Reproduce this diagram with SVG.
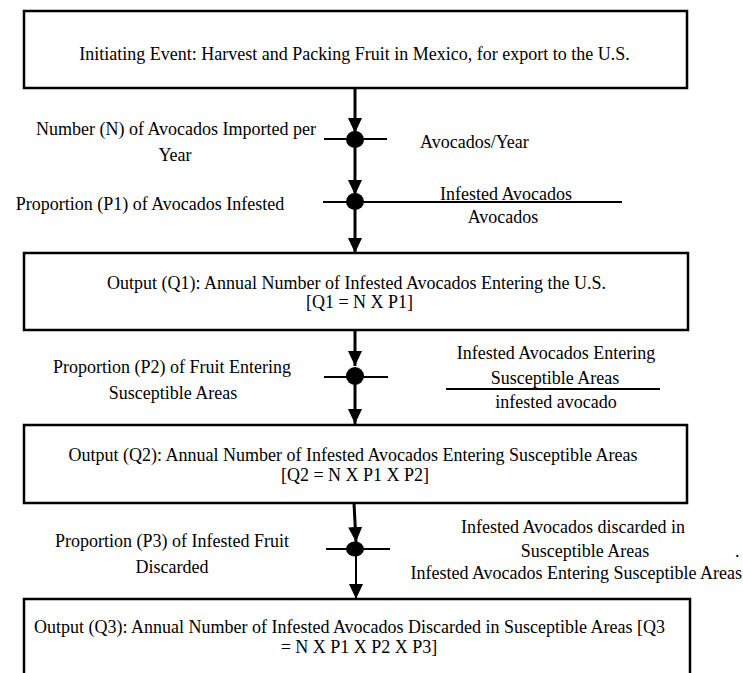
<svg xmlns="http://www.w3.org/2000/svg" width="743" height="673" viewBox="0 0 743 673">
<style>
.box{fill:#fff;stroke:#000;stroke-width:2.5}
.t{font-family:"Liberation Serif","Times New Roman",serif;font-size:18px;fill:#000}
.c{text-anchor:middle}
.e{text-anchor:end}
.ln{stroke:#000;stroke-width:3;fill:none}
.thin{stroke:#000;stroke-width:2;fill:none}
.h{stroke:#000;stroke-width:2}
.dot{fill:#000}
</style>
<defs>
<marker id="arr" markerUnits="userSpaceOnUse" markerWidth="15" markerHeight="15" refX="15" refY="7" orient="auto">
<path d="M0,0 L15,7 L0,14 z" fill="#000"/>
</marker>
</defs>
<rect width="743" height="673" fill="#fff"/>
<g id="connectors">
<path class="ln" d="M355,88 V133" marker-end="url(#arr)"/>
<path class="ln" d="M355,140 V195" marker-end="url(#arr)"/>
<path class="ln" d="M355,202 V253" marker-end="url(#arr)"/>
<path class="ln" d="M355,330 V366" marker-end="url(#arr)"/>
<path class="ln" d="M355,377 V424" marker-end="url(#arr)"/>
<path class="ln" d="M354,503 L356,542" marker-end="url(#arr)"/>
<path class="thin" d="M356,549 V599" marker-end="url(#arr)"/>
<line class="h" x1="324" y1="139" x2="387" y2="139"/>
<line class="h" x1="323" y1="202" x2="622" y2="202"/>
<line class="h" x1="324" y1="377" x2="388" y2="377"/>
<line class="h" x1="326" y1="549" x2="390" y2="549"/>
<ellipse class="dot" cx="355" cy="139.5" rx="9" ry="8.5"/>
<ellipse class="dot" cx="355" cy="201.5" rx="9" ry="8.5"/>
<ellipse class="dot" cx="355" cy="376" rx="9" ry="9"/>
<ellipse class="dot" cx="355" cy="549" rx="9" ry="7.5"/>
</g>
<g id="initiating">
<rect class="box" x="24" y="11" width="663" height="77"/>
<text class="t c" x="354.5" y="60">Initiating Event: Harvest and Packing Fruit in Mexico, for export to the U.S.</text>
</g>
<g id="n-label">
<text class="t c" x="176" y="135">Number (N) of Avocados Imported per</text>
<text class="t c" x="175" y="161">Year</text>
</g>
<g id="n-unit">
<text class="t" x="420" y="148">Avocados/Year</text>
</g>
<g id="p1-label">
<text class="t c" x="150" y="210">Proportion (P1) of Avocados Infested</text>
</g>
<g id="p1-unit">
<text class="t c" x="506" y="200">Infested Avocados</text>
<text class="t c" x="503" y="223">Avocados</text>
</g>
<g id="q1">
<rect class="box" x="24" y="253" width="664" height="77"/>
<text class="t c" x="356.5" y="289">Output (Q1): Annual Number of Infested Avocados Entering the U.S.</text>
<text class="t c" x="359.5" y="308">[Q1 = N X P1]</text>
</g>
<g id="p2-label">
<text class="t c" x="172" y="373">Proportion (P2) of Fruit Entering</text>
<text class="t c" x="173" y="399">Susceptible Areas</text>
</g>
<g id="p2-unit">
<text class="t c" x="556" y="359">Infested Avocados Entering</text>
<text class="t c" x="555" y="384">Susceptible Areas</text>
<line class="h" x1="446" y1="389" x2="660" y2="389"/>
<text class="t c" x="556" y="408">infested avocado</text>
</g>
<g id="q2">
<rect class="box" x="24" y="425" width="663" height="78"/>
<text class="t c" x="353" y="461">Output (Q2): Annual Number of Infested Avocados Entering Susceptible Areas</text>
<text class="t c" x="355" y="481">[Q2 = N X P1 X P2]</text>
</g>
<g id="p3-label">
<text class="t c" x="172" y="547">Proportion (P3) of Infested Fruit</text>
<text class="t c" x="172" y="573">Discarded</text>
</g>
<g id="p3-unit">
<text class="t c" x="573" y="533">Infested Avocados discarded in</text>
<text class="t c" x="585" y="557">Susceptible Areas</text>
<text class="t" x="735" y="557">.</text>
<text class="t e" x="742" y="579">Infested Avocados Entering Susceptible Areas</text>
</g>
<g id="q3">
<rect class="box" x="24" y="599" width="666" height="100"/>
<text class="t c" x="349.5" y="633">Output (Q3): Annual Number of Infested Avocados Discarded in Susceptible Areas [Q3</text>
<text class="t c" x="359" y="653">= N X P1 X P2 X P3]</text>
</g>
</svg>
